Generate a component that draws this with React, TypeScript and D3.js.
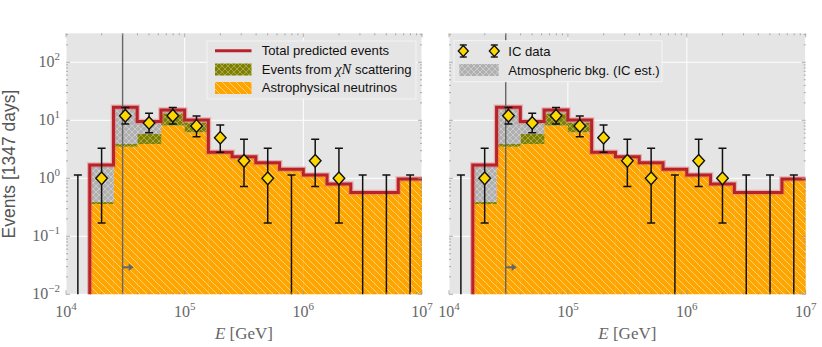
import React from 'react';
import * as d3 from 'd3';

// bin edges in log10(E/GeV)
const binEdges = [4.2, 4.4, 4.6, 4.8, 5.0, 5.2, 5.4, 5.6, 5.8, 6.0, 6.2, 6.4, 6.6, 6.8, 7.0];
// stacked model components per bin
const astroEvents = [0.36, 3.5, 3.9, 8.1, 6.2, 2.65, 2.22, 1.78, 1.39, 1.12, 0.79, 0.565, 0.565, 0.965];
const chiNEvents = [0.03, 0.4, 1.9, 5.1, 3.0, 0.06, 0.04, 0.03, 0.02, 0.01, 0.005, 0.003, 0.002, 0.002];
const atmEvents = [1.31, 12.9, 3.7, 1.8, 0.9, 0.09, 0.09, 0.05, 0.02, 0.01, 0.005, 0.002, 0.003, 0.003];

// IceCube data
const dataLogE = [4.1, 4.3, 4.5, 4.7, 4.9, 5.1, 5.3, 5.5, 5.7, 5.9, 6.1, 6.3, 6.5, 6.7, 6.9];
const dataCounts = [0, 1, 12, 9, 12, 8, 5, 2, 1, 0, 2, 1, 0, 0, 0];
const dataLow = [0.001, 0.17, 8.6, 6.1, 8.6, 5.2, 2.8, 0.72, 0.17, 0.001, 0.72, 0.17, 0.001, 0.001, 0.001];
const dataHigh = [1.14, 3.3, 16.6, 13.2, 16.6, 11.9, 8.3, 4.7, 3.3, 1.14, 4.7, 3.3, 1.14, 1.14, 1.14];

const thresholdLogE = 4.477; // 30 TeV
const xDecades = [4, 5, 6, 7];
const yDecades = [-2, -1, 0, 1, 2];

const top = 33.3, bottom = 294.3;
const y = d3.scaleLog().domain([1e-2, Math.pow(10, 2.5)]).range([bottom, top]);

const gray = '#666';
const sans = '"Liberation Sans", Arial, sans-serif';
const serif = '"Liberation Serif", "DejaVu Serif", serif';

function Sup({ base, exp, ...rest }: any) {
  return (
    <text {...rest}>
      {base}
      <tspan dy={-7} fontSize={11}>{exp}</tspan>
    </text>
  );
}

function Panel({ x0, x1, id, showY, legend }: any) {
  const xl = d3.scaleLinear().domain([4, 7]).range([x0, x1]);
  const x = (logE: number) => xl(logE);
  const totals = astroEvents.map((a, i) => a + chiNEvents[i] + atmEvents[i]);

  // red step line
  let d = `M${x(binEdges[0])},${bottom + 5}`;
  totals.forEach((t, i) => {
    d += `L${x(binEdges[i])},${y(t)}L${x(binEdges[i + 1])},${y(t)}`;
  });

  const minorX: number[] = [];
  for (let k = 4; k < 7; k++) for (let m = 2; m < 10; m++) minorX.push(k + Math.log10(m));
  const minorY: number[] = [];
  for (let k = -2; k < 3; k++) for (let m = 2; m < 10; m++) {
    const v = m * Math.pow(10, k);
    if (v < Math.pow(10, 2.5)) minorY.push(v);
  }

  return (
    <g>
      <defs>
        <clipPath id={`clip-${id}`}>
          <rect x={x0} y={top} width={x1 - x0} height={bottom - top} />
        </clipPath>
      </defs>
      <rect x={x0} y={top} width={x1 - x0} height={bottom - top} fill="#e5e5e5" />
      {/* grid */}
      {yDecades.map(k => (
        <line key={'gy' + k} x1={x0} x2={x1} y1={y(Math.pow(10, k))} y2={y(Math.pow(10, k))} stroke="#fff" strokeWidth={1} />
      ))}
      {xDecades.map(k => (
        <line key={'gx' + k} x1={x(k)} x2={x(k)} y1={top} y2={bottom} stroke="#fff" strokeWidth={1} />
      ))}
      <g clipPath={`url(#clip-${id})`}>
        {astroEvents.map((a, i) => (
          <rect key={'a' + i} x={x(binEdges[i])} width={x(binEdges[i + 1]) - x(binEdges[i]) + 0.3}
            y={y(a)} height={bottom + 5 - y(a)} fill="url(#hatchOrange)" />
        ))}
        {chiNEvents.map((c, i) => (
          <rect key={'c' + i} x={x(binEdges[i])} width={x(binEdges[i + 1]) - x(binEdges[i]) + 0.3}
            y={y(astroEvents[i] + c)} height={y(astroEvents[i]) - y(astroEvents[i] + c)} fill="url(#hatchOlive)" />
        ))}
        {atmEvents.map((b, i) => {
          const lo = astroEvents[i] + chiNEvents[i];
          return (
            <rect key={'b' + i} x={x(binEdges[i])} width={x(binEdges[i + 1]) - x(binEdges[i]) + 0.3}
              y={y(lo + b)} height={y(lo) - y(lo + b)} fill="url(#hatchGray)" />
          );
        })}
        <path d={d} fill="none" stroke="#e07070" strokeOpacity={0.45} strokeWidth={5.5} strokeLinejoin="miter" />
        <path d={d} fill="none" stroke="#b8232a" strokeWidth={3} strokeLinejoin="miter" />
        {/* threshold */}
        <line x1={x(thresholdLogE)} x2={x(thresholdLogE)} y1={top} y2={bottom} stroke={gray} strokeWidth={1.4} />
        {/* data error bars */}
        {dataLogE.map((e, i) => (
          <g key={'d' + i} stroke="#111" strokeWidth={1.5}>
            <line x1={x(e)} x2={x(e)} y1={y(dataLow[i])} y2={y(dataHigh[i])} />
            <line x1={x(e) - 4} x2={x(e) + 4} y1={y(dataHigh[i])} y2={y(dataHigh[i])} />
            {dataLow[i] > 0.01 && <line x1={x(e) - 4} x2={x(e) + 4} y1={y(dataLow[i])} y2={y(dataLow[i])} />}
          </g>
        ))}
        {dataLogE.map((e, i) => dataCounts[i] > 0 && (
          <path key={'m' + i} d={`M${x(e)},${y(dataCounts[i]) - 6.3}l5.8,6.3l-5.8,6.3l-5.8,-6.3z`}
            fill="#ffd700" stroke="#111" strokeWidth={1.4} />
        ))}
      </g>
      {/* arrow */}
      <line x1={x(thresholdLogE)} x2={x(thresholdLogE) + 7} y1={267.3} y2={267.3} stroke={gray} strokeWidth={2} />
      <path d={`M${x(thresholdLogE) + 6},${263.5}l5,3.8l-5,3.8z`} fill={gray} />
      {/* ticks */}
      <g stroke="#999" strokeWidth={0.8}>
        {xDecades.map(k => (
          <g key={'tx' + k}>
            <line x1={x(k)} x2={x(k)} y1={bottom} y2={bottom - 4} />
            <line x1={x(k)} x2={x(k)} y1={top} y2={top + 4} />
          </g>
        ))}
        {minorX.map(v => (
          <g key={'mx' + v}>
            <line x1={x(v)} x2={x(v)} y1={bottom} y2={bottom - 2} />
            <line x1={x(v)} x2={x(v)} y1={top} y2={top + 2} />
          </g>
        ))}
        {yDecades.map(k => (
          <g key={'ty' + k}>
            <line x1={x0} x2={x0 + 4} y1={y(Math.pow(10, k))} y2={y(Math.pow(10, k))} />
            <line x1={x1} x2={x1 - 4} y1={y(Math.pow(10, k))} y2={y(Math.pow(10, k))} />
          </g>
        ))}
        {minorY.map(v => (
          <g key={'my' + v}>
            <line x1={x0} x2={x0 + 2} y1={y(v)} y2={y(v)} />
            <line x1={x1} x2={x1 - 2} y1={y(v)} y2={y(v)} />
          </g>
        ))}
      </g>
      {/* tick labels */}
      {xDecades.map(k => (
        <Sup key={'lx' + k} base="10" exp={String(k)} x={x(k)} y={316.5} textAnchor="middle"
          fontFamily={serif} fontSize={16} fill="#666" />
      ))}
      {showY && yDecades.map(k => (
        <Sup key={'ly' + k} base="10" exp={k < 0 ? '\u2212' + Math.abs(k) : String(k)} x={60} y={y(Math.pow(10, k)) + 5}
          textAnchor="end" fontFamily={serif} fontSize={16} fill="#666" />
      ))}
      <text x={(x0 + x1) / 2} y={339} textAnchor="middle" fontFamily={serif} fontSize={17} fill="#666">
        <tspan fontStyle="italic">E</tspan> [GeV]
      </text>
      {legend}
    </g>
  );
}

const LeftLegend = () => (
  <g fontFamily={sans} fontSize={13.1} fill="#111">
    <rect x={207} y={41} width={209} height={58} fill="#e5e5e5" stroke="#f4f4f4" strokeWidth={1} />
    <line x1={215} x2={251.5} y1={50.7} y2={50.7} stroke="#b8232a" strokeWidth={3} />
    <text x={261.7} y={55.3}>Total predicted events</text>
    <rect x={215} y={63.5} width={36.5} height={12} fill="url(#hatchOlive)" />
    <text x={261.7} y={73.9}>Events from <tspan fontFamily={serif} fontStyle="italic" fontSize={14.5}>χN</tspan> scattering</text>
    <rect x={215} y={82} width={36.5} height={12} fill="url(#hatchOrange)" />
    <text x={261.7} y={92.3}>Astrophysical neutrinos</text>
  </g>
);

const RightLegend = () => (
  <g fontFamily={sans} fontSize={13.1} fill="#111">
    <rect x={454} y={40.7} width={208} height={41} fill="#e5e5e5" stroke="#f4f4f4" strokeWidth={1} />
    {[463.3, 494.3].map(cx => (
      <g key={cx}>
        <g stroke="#111" strokeWidth={1.4}>
          <line x1={cx} x2={cx} y1={45} y2={57} />
          <line x1={cx - 3.5} x2={cx + 3.5} y1={45} y2={45} />
          <line x1={cx - 3.5} x2={cx + 3.5} y1={57} y2={57} />
        </g>
        <path d={`M${cx},${45.5}l5,5.5l-5,5.5l-5,-5.5z`} fill="#ffd700" stroke="#111" strokeWidth={1.3} />
      </g>
    ))}
    <text x={508.3} y={55.6}>IC data</text>
    <rect x={459.3} y={64} width={39.4} height={12} fill="url(#hatchGray)" />
    <text x={508.3} y={74.6}>Atmospheric bkg. (IC est.)</text>
  </g>
);

export default function App() {
  return (
    <svg width={822} height={347} style={{ position: 'absolute', left: 0, top: 0, background: '#fff' }}>
      <defs>
        <pattern id="hatchOrange" patternUnits="userSpaceOnUse" width={7} height={7}>
          <rect width={7} height={7} fill="#ffa500" />
          <path d="M-1,-1L8,8M-1,6L1,8M6,-1L8,1" stroke="#fff" strokeOpacity={0.55} strokeWidth={0.9} />
        </pattern>
        <pattern id="hatchOlive" patternUnits="userSpaceOnUse" width={6} height={6}>
          <rect width={6} height={6} fill="#808000" />
          <path d="M0,0L6,6M6,0L0,6" stroke="#a6a64a" strokeWidth={1} />
        </pattern>
        <pattern id="hatchGray" patternUnits="userSpaceOnUse" width={6} height={6}>
          <rect width={6} height={6} fill="#b0b0b0" />
          <path d="M0,0L6,6M6,0L0,6" stroke="#cbcbcb" strokeWidth={1} />
        </pattern>
      </defs>
      <text transform="translate(15,164) rotate(-90)" textAnchor="middle" fontFamily={sans} fontSize={17.5} fill="#555">
        Events [1347 days]
      </text>
      <Panel x0={66} x1={422} id="l" showY={true} legend={<LeftLegend />} />
      <Panel x0={449} x1={805.7} id="r" showY={false} legend={<RightLegend />} />
    </svg>
  );
}
